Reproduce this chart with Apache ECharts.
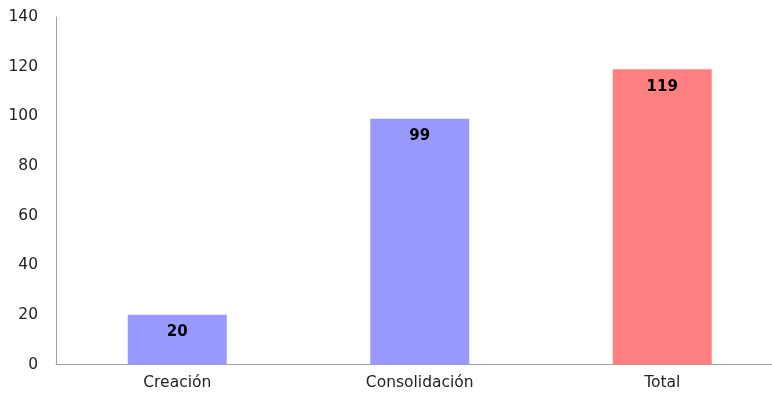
<!DOCTYPE html>
<html><head><meta charset="utf-8">
<script src="https://cdn.jsdelivr.net/npm/echarts@6/dist/echarts.min.js"></script>
<style>html,body{margin:0;padding:0;background:#fff;overflow:hidden;width:772px;height:400px}#c{width:784px;height:400px}</style>
</head><body><div id="c"></div>
<script>
const categories = ['Creación', 'Consolidación', 'Total'];
const values = [20, 99, 119];
const barColors = ['#9999FF', '#9999FF', '#FF8080'];
const yTicks = [0, 20, 40, 60, 80, 100, 120, 140];

const chart = echarts.init(document.getElementById('c'), null, {renderer: 'canvas'});
chart.setOption({
  animation: false,
  grid: {left: 56, right: 0.5, top: 17, bottom: 35.5, containLabel: false},
  xAxis: {
    type: 'category', data: categories,
    axisLine: {lineStyle: {color: '#A0A0A0', width: 1}},
    axisTick: {show: false},
    axisLabel: {color: '#222', fontFamily: 'DejaVu Sans', fontSize: 15.5, margin: 10}
  },
  yAxis: {
    type: 'value', min: yTicks[0], max: yTicks[yTicks.length - 1], interval: 20,
    axisLine: {show: true, lineStyle: {color: '#A0A0A0', width: 1}},
    axisTick: {show: false},
    splitLine: {show: false},
    axisLabel: {color: '#222', fontFamily: 'DejaVu Sans', fontSize: 15.5, margin: 18}
  },
  series: [{
    type: 'bar', barWidth: 99,
    data: values.map((v, i) => ({value: v, itemStyle: {color: barColors[i]}})),
    label: {show: true, position: 'insideTop', distance: 10, color: '#000',
            fontFamily: 'DejaVu Sans', fontWeight: 'bold', fontSize: 15}
  }]
});
</script></body></html>
